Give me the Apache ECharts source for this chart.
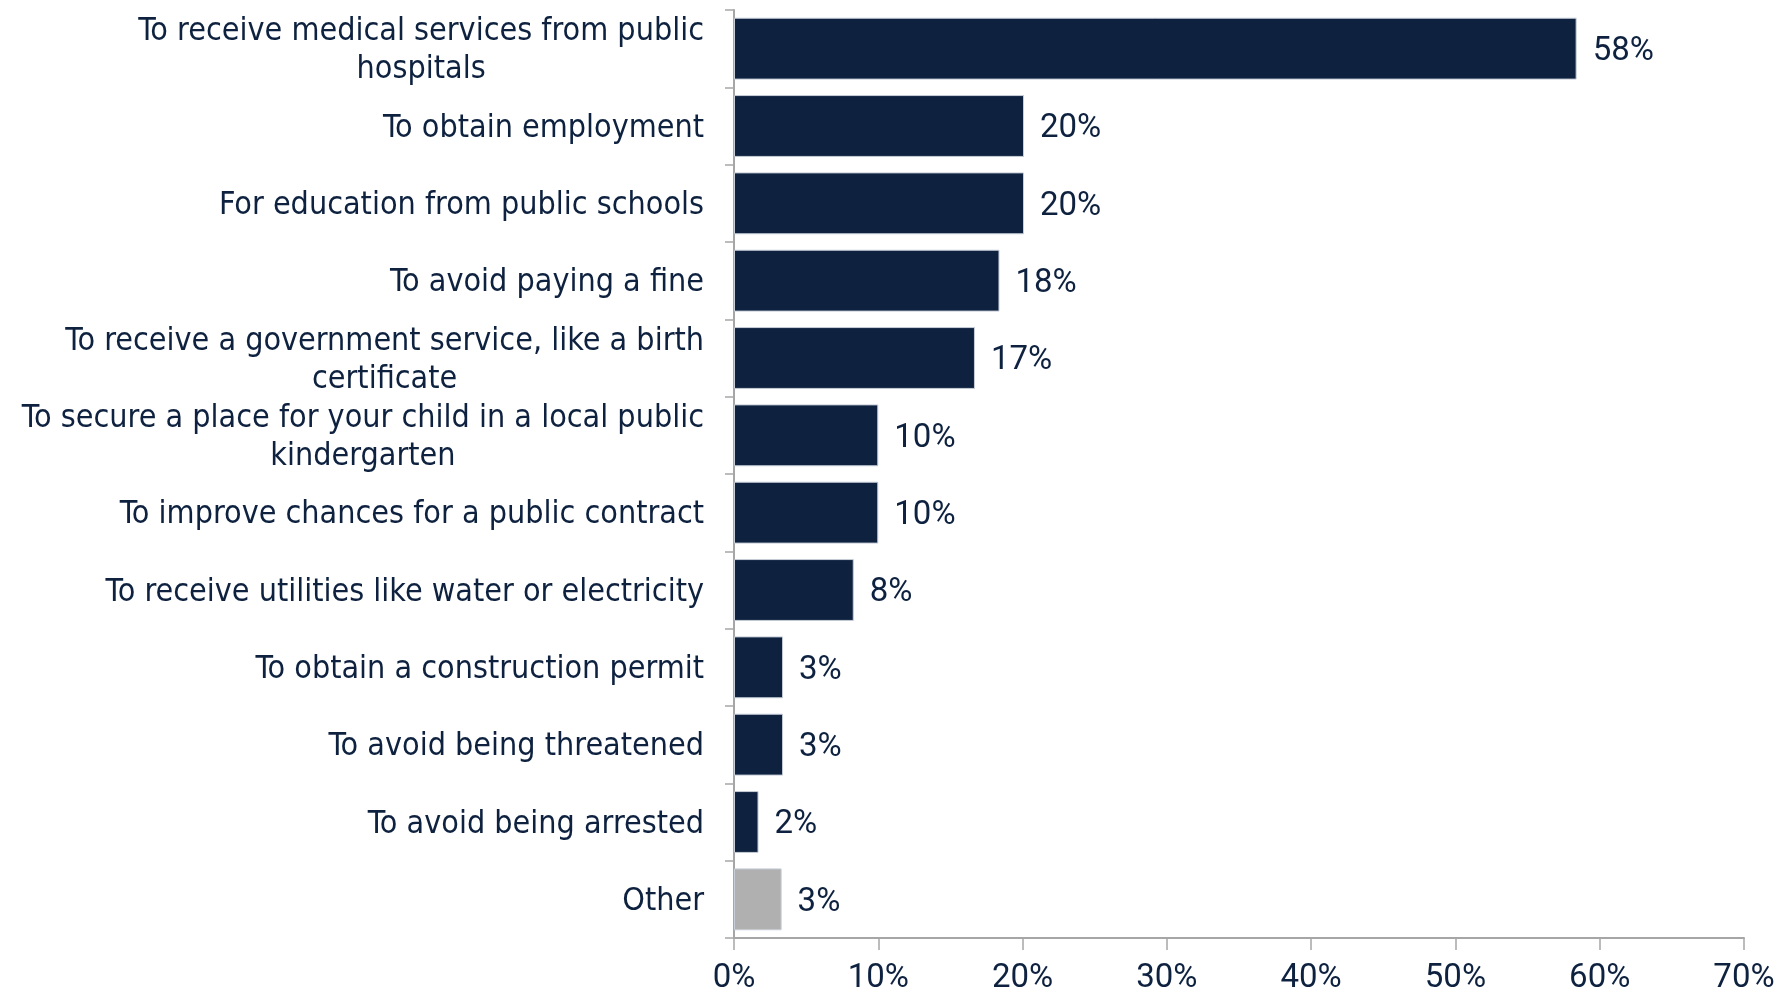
<!DOCTYPE html>
<html>
<head>
<meta charset="utf-8">
<script src="https://cdn.jsdelivr.net/npm/echarts@6/dist/echarts.min.js"></script>
<style>
html,body{margin:0;padding:0;background:#fff;}
#chart{width:1789px;height:992px;}
</style>
</head>
<body>
<div id="chart"></div>
<script>
const categories = [
  "To receive medical services from public\nhospitals",
  "To obtain employment",
  "For education from public schools",
  "To avoid paying a fine",
  "To receive a government service, like a birth\ncertificate",
  "To secure a place for your child in a local public\nkindergarten",
  "To improve chances for a public contract",
  "To receive utilities like water or electricity",
  "To obtain a construction permit",
  "To avoid being threatened",
  "To avoid being arrested",
  "Other"
];
const values = [58.4, 20.1, 20.1, 18.4, 16.7, 10.0, 10.0, 8.3, 3.4, 3.4, 1.7, 3.3];
const xTicks = [0, 10, 20, 30, 40, 50, 60, 70];

const NAVY = '#0E2240';
const GRAY = '#B0B0B0';
const FONT = 'DejaVu Sans Condensed';
const NUMFONT = 'Roboto';

const chart = echarts.init(document.getElementById('chart'));
chart.setOption({
  animation: false,
  grid: {left: 734, right: 45, top: 10, bottom: 54, containLabel: false, outerBoundsMode: 'none'},
  xAxis: {
    type: 'value', min: xTicks[0], max: xTicks[xTicks.length - 1], interval: 10,
    splitLine: {show: false},
    axisLine: {show: true, lineStyle: {color: '#A6A6A6', width: 2}},
    axisTick: {show: true, length: 12, lineStyle: {color: '#A6A6A6', width: 1.5}},
    axisLabel: {color: NAVY, fontFamily: NUMFONT, fontSize: 33, margin: 24, formatter: v => v + '%'}
  },
  yAxis: {
    type: 'category', data: categories, inverse: true,
    axisLine: {show: true, lineStyle: {color: '#A6A6A6', width: 2}},
    axisTick: {show: true, length: 9, lineStyle: {color: '#A6A6A6', width: 1.5}},
    axisLabel: {
      margin: 30, color: NAVY, fontFamily: FONT, fontSize: 32, lineHeight: 38, padding: [5, 0, 0, 0],
      formatter: s => s.split('\n').map(l => '{a|' + l + '}').join('\n'),
      rich: {a: {align: 'center', color: NAVY, fontFamily: FONT, fontSize: 32, lineHeight: 38}}
    }
  },
  series: [{
    type: 'bar', data: values.map((v, i) => ({value: v, itemStyle: {color: i === values.length - 1 ? GRAY : NAVY}})),
    barCategoryGap: '20%',
    itemStyle: {borderColor: '#C8CED8', borderWidth: 1},
    label: {show: true, position: 'right', distance: 16, offset: [0, 3], color: NAVY, fontFamily: NUMFONT, fontSize: 33,
      formatter: p => Math.round(p.value) + '%'}
  }]
});
</script>
</body>
</html>
